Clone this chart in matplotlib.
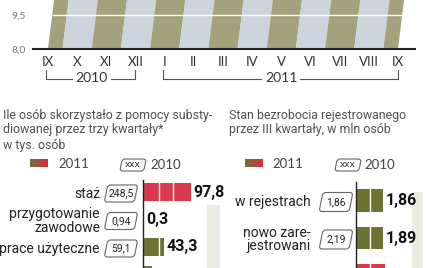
import numpy as np
import matplotlib
matplotlib.use('Agg')
import matplotlib.pyplot as plt
import matplotlib.transforms as mtransforms
from matplotlib.patches import FancyBboxPatch
from matplotlib.colors import LinearSegmentedColormap

# top chart: monthly values (top of the area is cut off in the picture)
months = ['IX', 'X', 'XI', 'XII', 'I', 'II', 'III', 'IV', 'V', 'VI', 'VII', 'VIII', 'IX']
rate = [11.5, 11.5, 11.7, 12.3, 13.0, 13.2, 13.1, 12.8, 12.4, 11.9, 11.8, 11.8, 11.8]
years = ['2010', '2011']
year_span = [(0, 3), (4, 12)]

# left panel: subsidised help, thousands of people
help_labels = ['staż', 'przygotowanie\nzawodowe', 'prace użyteczne', '']
help_2011 = [97.8, 0.3, 43.3, 19.0]
help_2010 = ['248,5', '0,94', '59,1', '']
help_red = [True, False, False, False]

# right panel: registered unemployment, millions
reg_labels = ['w rejestrach', 'nowo zare-\njestrowani', '']
reg_2011 = [1.86, 1.89, 2.0]
reg_2010 = ['1,86', '2,19', '']
reg_red = [False, False, True]

OLIVE = '#6c7333'
RED = '#da3a4e'
NARROW = ['Roboto', 'DejaVu Sans']
SANS = ['Lato', 'DejaVu Sans']

W, H = 439, 268
fig = plt.figure(figsize=(W / 100, H / 100), dpi=100)


def px_axes(x0, y0, x1, y1):
    a = fig.add_axes([x0 / W, 1 - y1 / H, (x1 - x0) / W, (y1 - y0) / H])
    a.patch.set_alpha(0)
    return a


ov = px_axes(0, 0, W, H)
ov.set_xlim(0, W)
ov.set_ylim(H, 0)
ov.axis('off')

# ---- top area chart ----
ax = px_axes(33, 0, 415, 48.7)
ax.set_xlim(-0.514, 12.583)
ax.set_ylim(8, 10.15)
skew = mtransforms.Affine2D().translate(0, -8).skew(np.arctan(0.097), 0).translate(0, 8) + ax.transData
x = np.arange(len(months))
lefts = np.clip(x - 0.5, 0, x[-1])
rights = np.clip(x + 0.5, 0, x[-1])
cols = ['#a3a27c' if i % 2 == 0 else '#cdd5dc' for i in x]
ax.bar(lefts, np.array(rate) - 8, width=rights - lefts, bottom=8, align='edge',
       color=cols, linewidth=0, transform=skew)
ax.hlines(9.5, 0, x[-1], color='white', lw=1, transform=skew)
ax.axhline(8, color='#222', lw=1.5, clip_on=False)
for s in ax.spines.values():
    s.set_visible(False)
ax.set_xticks([])
ax.set_yticks([8, 9.5], ['8,0', '9,5'])
ax.tick_params(length=0, pad=5, labelsize=7.5, labelcolor='#777')
for t in ax.get_yticklabels():
    t.set_family(SANS)

bx = mtransforms.blended_transform_factory(ax.transData, ov.transData)
for i, m in enumerate(months):
    ov.text(i, 62, m, transform=bx, ha='center', va='center', fontsize=9.5,
            color='#333', family=SANS)
for yr, (a, b) in zip(years, year_span):
    ov.plot([a - 0.07, a - 0.07, b, b], [70, 78.5, 78.5, 70], color='#555', lw=0.8, transform=bx)
    ov.text((a + b) / 2, 78, yr, transform=bx, ha='center', va='center', fontsize=10,
            color='#333', family=SANS, bbox=dict(fc='white', ec='none', pad=2))

# ---- titles and legends ----
ov.text(3, 108.5, 'Ile osób skorzystało z pomocy substy-\ndiowanej przez trzy kwartały*\nw tys. osób',
        ha='left', va='top', fontsize=8.9, color='#505050', family=NARROW, linespacing=1.2)
ov.text(229, 108.5, 'Stan bezrobocia rejestrowanego\nprzez III kwartały, w mln osób',
        ha='left', va='top', fontsize=8.9, color='#505050', family=NARROW, linespacing=1.2)

grad = LinearSegmentedColormap.from_list('g', ['#65763a', '#e0283c'])


def slant_box(xc, yc, w, h, text, size):
    tr = mtransforms.Affine2D().translate(-xc, -yc).skew(np.arctan(-0.2), 0).translate(xc, yc) + ov.transData
    p = FancyBboxPatch((xc - w / 2, yc - h / 2), w, h, boxstyle='round,pad=0,rounding_size=3',
                       fc='white', ec='#666', lw=0.8, transform=tr)
    ov.add_patch(p)
    ov.text(xc, yc, text, ha='center', va='center', fontsize=size, color='#222', family=NARROW)


for sx, tx, bxc, t2 in [(30, 58, 133, 150), (245, 272, 348, 364)]:
    ov.imshow(np.linspace(0, 1, 50)[None, :], extent=[sx, sx + 18, 167.5, 160], aspect='auto', cmap=grad)
    ov.text(tx, 164, '2011', ha='left', va='center', fontsize=9.5, color='#444', family=SANS)
    slant_box(bxc, 165, 24, 12, 'XXX', 6)
    ov.text(t2, 165, '2010', ha='left', va='center', fontsize=9.5, color='#444', family=SANS)

# ---- left bar panel ----
axL = px_axes(143, 180, 225, 268)
axL.set_xlim(0, 82 / 0.49)
axL.set_ylim(88 / 27.5 - 12 / 27.5, -12 / 27.5)
yL = np.arange(len(help_2011))
axL.fill_betweenx([0.47, 4], 130, 157, color='#ebece4', lw=0, zorder=0)
axL.barh(yL, help_2011, height=0.65, color=[RED if r else OLIVE for r in help_red], zorder=2)
axL.vlines([32, 61], -1, 4, color='white', lw=1, zorder=3)

# ---- right bar panel ----
axR = px_axes(356, 182, 439, 268)
axR.set_xlim(0, 83 / 14.5)
axR.set_ylim(86 / 37.5 - 18.5 / 37.5, -18.5 / 37.5)
yR = np.arange(len(reg_2011))
axR.fill_betweenx([-0.23, 3], 3.86, 4.62, color='#ebece4', lw=0, zorder=0)
axR.barh(yR, reg_2011, height=0.59, color=[RED if r else OLIVE for r in reg_red], zorder=2)
axR.vlines([1.0], -1, 3, color='white', lw=1, zorder=3)

for a, ys, vals, labs, olds, fmt, lab_x, box_x, box_h in [
        (axL, yL, help_2011, help_labels, help_2010, '{:.1f}', 100, 121, 17),
        (axR, yR, reg_2011, reg_labels, reg_2010, '{:.2f}', 311, 336, 19)]:
    for s in a.spines.values():
        s.set_visible(False)
    a.spines['left'].set_visible(True)
    a.spines['left'].set_color('#222')
    a.spines['left'].set_linewidth(1)
    a.set_xticks([])
    a.set_yticks([])
    for yy, v, lab, old in zip(ys, vals, labs, olds):
        if not lab:
            continue
        ypx = ov.transData.inverted().transform(a.transData.transform((0, yy)))[1]
        ov.text(lab_x, ypx + 1.5, lab, ha='right', va='center', fontsize=10, color='#222',
                family=NARROW, multialignment='right', linespacing=0.95)
        slant_box(box_x, ypx + 1.5, 30, box_h, old, 7.5)
        a.annotate(fmt.format(v).replace('.', ','), (v, yy), xytext=(2, 0), textcoords='offset points',
                   ha='left', va='center', fontsize=11.5, fontweight='bold', color='#111', family=NARROW)

fig.savefig('out.png', dpi=100)
